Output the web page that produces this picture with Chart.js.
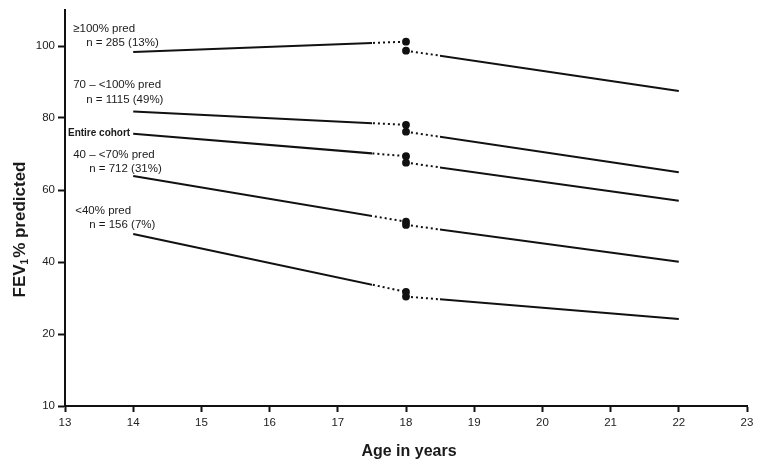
<!DOCTYPE html>
<html>
<head>
<meta charset="utf-8">
<script src="https://cdn.jsdelivr.net/npm/chart.js@4/dist/chart.umd.min.js"></script>
<style>
  html, body { margin: 0; padding: 0; background: #fff; }
  #wrap { width: 766px; height: 469px; position: relative; }
</style>
</head>
<body>
<div id="wrap"><canvas id="c" width="766" height="469"></canvas></div>
<script>
// ---- data ----
const groupNames   = ["≥100% pred", "70 – <100% pred", "Entire cohort", "40 – <70% pred", "<40% pred"];
const groupCounts  = ["n = 285 (13%)", "n = 1115 (49%)", "", "n = 712 (31%)", "n = 156 (7%)"];
const startAge = 14, visitAge = 18, endAge = 22;
const fevAt14      = [98.3, 81.8, 75.6, 63.9, 47.8];   // start of pre-18 trend
const fevBefore18  = [101.2, 78.1, 69.4, 51.2, 31.7];  // end of pre-18 trend (dot)
const fevAfter18   = [98.7, 76.2, 67.6, 50.3, 30.4];   // start of post-18 trend (dot)
const fevAt22      = [87.5, 64.9, 57.0, 40.1, 24.2];   // end of post-18 trend
const xTickValues  = [13, 14, 15, 16, 17, 18, 19, 20, 21, 22, 23];
const yTickValues  = [0, 20, 40, 60, 80, 100];
const yTickLabels  = ["10", "20", "40", "60", "80", "100"];   // broken axis: bottom tick reads 10

// ---- style ----
const FONT = "'Liberation Sans', Arial, Helvetica, sans-serif";
const solidUntil = 17.5, solidFrom = 18.5;   // where lines turn dotted around age 18
// label offsets relative to start point pixel: [dx1, dy1, dx2, dy2]
const labelOffsets = [[-60, -23, -47, -9], [-60, -27, -47, -12], [-3, -1, 0, 0], [-60, -21, -44, -7], [-58, -23, -44, -9]];

const datasets = [];
groupNames.forEach((name, i) => {
  const pre  = [{x: startAge, y: fevAt14[i]}, {x: visitAge, y: fevBefore18[i]}];
  const post = [{x: visitAge, y: fevAfter18[i]}, {x: endAge, y: fevAt22[i]}];
  const base = {borderColor: '#111', backgroundColor: '#111', borderWidth: 2, tension: 0, pointBorderWidth: 0, pointHoverRadius: 0};
  datasets.push(Object.assign({}, base, {label: name + ' pre solid', data: pre, pointRadius: 0, clipSide: 'left', clipAt: solidUntil}));
  datasets.push(Object.assign({}, base, {label: name + ' pre dotted', data: pre, pointRadius: [0, 3.9], borderDash: [2, 3], clipSide: 'right', clipAt: solidUntil}));
  datasets.push(Object.assign({}, base, {label: name + ' post dotted', data: post, pointRadius: [3.9, 0], borderDash: [2, 3], clipSide: 'left', clipAt: solidFrom}));
  datasets.push(Object.assign({}, base, {label: name + ' post solid', data: post, pointRadius: 0, clipSide: 'right', clipAt: solidFrom}));
});

const splitClip = {
  id: 'splitClip',
  beforeDatasetDraw(chart, args) {
    const ds = chart.data.datasets[args.index];
    const ctx = chart.ctx;
    const xp = chart.scales.x.getPixelForValue(ds.clipAt);
    ctx.save();
    ctx.beginPath();
    if (ds.clipSide === 'left') ctx.rect(0, 0, xp, chart.height);
    else ctx.rect(xp, 0, chart.width - xp, chart.height);
    ctx.clip();
  },
  afterDatasetDraw(chart) { chart.ctx.restore(); }
};

const annotations = {
  id: 'annotations',
  afterDraw(chart) {
    const ctx = chart.ctx;
    const xs = chart.scales.x, ys = chart.scales.y;
    ctx.save();
    ctx.fillStyle = '#1a1a1a';
    ctx.textBaseline = 'middle';
    groupNames.forEach((name, i) => {
      const px = xs.getPixelForValue(startAge);
      const py = ys.getPixelForValue(fevAt14[i]);
      const o = labelOffsets[i];
      if (groupCounts[i] === '') {
        ctx.font = 'bold 10px ' + FONT;
        ctx.textAlign = 'right';
        ctx.fillText(name, px + o[0], py + o[1]);
      } else {
        ctx.font = '11.5px ' + FONT;
        ctx.textAlign = 'left';
        ctx.fillText(name, px + o[0], py + o[1]);
        ctx.fillText(groupCounts[i], px + o[2], py + o[3]);
      }
    });
    // axis titles
    const ca = chart.chartArea;
    ctx.font = 'bold 16px ' + FONT;
    ctx.textAlign = 'center';
    ctx.fillText('Age in years', (ca.left + ca.right) / 2 + 3, 452);
    // y title with subscript
    ctx.translate(20, 230);
    ctx.rotate(-Math.PI / 2);
    const p1 = 'FEV', sub = '1', p2 = '% predicted';
    ctx.font = 'bold 17px ' + FONT;
    const w1 = ctx.measureText(p1).width, w3 = ctx.measureText(p2).width;
    ctx.font = 'bold 10px ' + FONT;
    const w2 = ctx.measureText(sub).width;
    let x0 = -(w1 + w2 + w3) / 2;
    ctx.textAlign = 'left';
    ctx.font = 'bold 17px ' + FONT;
    ctx.fillText(p1, x0, 0);
    ctx.font = 'bold 10px ' + FONT;
    ctx.fillText(sub, x0 + w1, 5);
    ctx.font = 'bold 17px ' + FONT;
    ctx.fillText(p2, x0 + w1 + w2 + 1, 0);
    ctx.restore();
  }
};

new Chart(document.getElementById('c'), {
  type: 'line',
  data: {datasets},
  options: {
    responsive: false,
    animation: false,
    events: [],
    layout: {padding: {top: 10, right: 19, left: 0, bottom: 0}},
    plugins: {legend: {display: false}, tooltip: {enabled: false}},
    scales: {
      x: {
        type: 'linear', min: 13, max: 23,
        afterBuildTicks(scale) { scale.ticks = xTickValues.map(v => ({value: v})); },
        afterFit(scale) { scale.height = 63; },
        grid: {display: true, drawOnChartArea: false, drawTicks: true, tickLength: 6, tickWidth: 2, tickColor: '#111', color: '#111'},
        border: {display: true, color: '#111', width: 2},
        ticks: {color: '#222', font: {family: FONT, size: 11.5}, padding: 4, maxRotation: 0, autoSkip: false}
      },
      y: {
        type: 'linear', min: 0, max: 110,
        afterBuildTicks(scale) { scale.ticks = yTickValues.map(v => ({value: v})); },
        afterFit(scale) { scale.width = 65; },
        grid: {display: true, drawOnChartArea: false, drawTicks: true, tickLength: 7, tickWidth: 2, tickColor: '#111', color: '#111'},
        border: {display: true, color: '#111', width: 2},
        ticks: {color: '#222', font: {family: FONT, size: 11.5}, padding: 3, autoSkip: false,
          callback: (v) => { const k = yTickValues.indexOf(v); return k >= 0 ? yTickLabels[k] : ''; }}
      }
    }
  },
  plugins: [splitClip, annotations]
});
</script>
</body>
</html>
